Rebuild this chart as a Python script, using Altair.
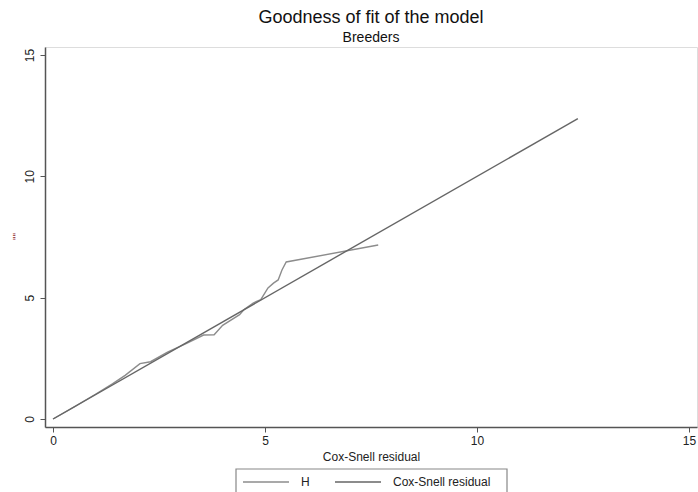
import altair as alt
import pandas as pd

# Nelson-Aalen cumulative hazard (H) plotted against Cox-Snell residual
h_x = [0.0, 0.5, 1.0, 1.4, 1.7, 2.05, 2.3, 2.7, 3.15, 3.55, 3.8, 4.0, 4.4, 4.5, 4.72, 4.9, 5.07, 5.2, 5.31, 5.4, 5.5, 7.67]
h_y = [0.0, 0.5, 1.02, 1.45, 1.8, 2.28, 2.36, 2.76, 3.12, 3.46, 3.47, 3.86, 4.3, 4.5, 4.78, 4.92, 5.4, 5.6, 5.73, 6.14, 6.47, 7.17]
# Cox-Snell residual vs itself (45-degree reference)
cs_x = [0.0, 12.38]
cs_y = [0.0, 12.38]

series_names = ["H", "Cox-Snell residual"]
x_ticks = [0, 5, 10, 15]
y_ticks = [0, 5, 10, 15]

df = pd.concat([
    pd.DataFrame({"x": h_x, "y": h_y, "series": series_names[0], "ord": list(range(len(h_x)))}),
    pd.DataFrame({"x": cs_x, "y": cs_y, "series": series_names[1], "ord": list(range(len(cs_x)))}),
], ignore_index=True)

FONT = "Liberation Sans"

lines = alt.Chart(df).mark_line(strokeWidth=1.4).encode(
    x=alt.X("x:Q",
            scale=alt.Scale(domain=[-0.19, 15.19], nice=False, zero=False),
            axis=alt.Axis(values=x_ticks, title="Cox-Snell residual", grid=False,
                          tickSize=5, labelPadding=3, titlePadding=5,
                          labelFontSize=12, titleFontSize=12, titleFontWeight="normal",
                          labelColor="#222222", titleColor="#222222",
                          domainColor="#555555", domainWidth=1.5, tickColor="#555555",
                          labelFont=FONT, titleFont=FONT)),
    y=alt.Y("y:Q",
            scale=alt.Scale(domain=[-0.33, 15.33], nice=False, zero=False),
            axis=alt.Axis(values=y_ticks, title='""', grid=False,
                          tickSize=5, labelPadding=4, labelAngle=270,
                          labelAlign="center", labelBaseline="bottom",
                          labelFontSize=12, titleFontSize=10, titleFontWeight="normal",
                          titleColor="#8b1a1a", titleAngle=270,
                          titleBaseline="middle", titleAlign="center",
                          titleX=-28, titleY=189,
                          labelColor="#222222",
                          domainColor="#555555", domainWidth=1.5, tickColor="#555555",
                          labelFont=FONT, titleFont=FONT)),
    color=alt.Color("series:N",
                    scale=alt.Scale(domain=series_names, range=["#8c8c8c", "#666666"]),
                    legend=alt.Legend(title=None, orient="none", direction="horizontal",
                                      legendX=197, legendY=411,
                                      symbolType="stroke", symbolSize=2116,
                                      symbolStrokeWidth=1.5,
                                      labelFontSize=12, labelFont=FONT, labelColor="#222222",
                                      labelOffset=11, columnPadding=22,
                                      padding=0, strokeColor="transparent")),
    order="ord:Q",
)

legend_box = alt.Chart(pd.DataFrame({"box": [0]})).mark_rect(
    fill="white", stroke="#888888", strokeWidth=1.2
).encode(
    x=alt.value(191), x2=alt.value(462), y=alt.value(422), y2=alt.value(460)
)

chart = alt.layer(legend_box, lines).properties(
    width=652,
    height=380,
    title=alt.TitleParams(
        "Goodness of fit of the model",
        subtitle="Breeders",
        fontSize=18, fontWeight="normal", font=FONT, color="#111111",
        subtitleFontSize=14, subtitleFont=FONT, subtitleColor="#111111",
        subtitlePadding=4, anchor="middle", frame="group", offset=2,
    ),
    autosize=alt.AutoSizeParams(type="none"),
    padding={"left": 45, "top": 47, "right": 1, "bottom": 65},
).configure_view(
    stroke="#888888", strokeWidth=1.5
).configure(background="white")

chart.save("out.html", embed_options={"renderer": "svg", "actions": False})
